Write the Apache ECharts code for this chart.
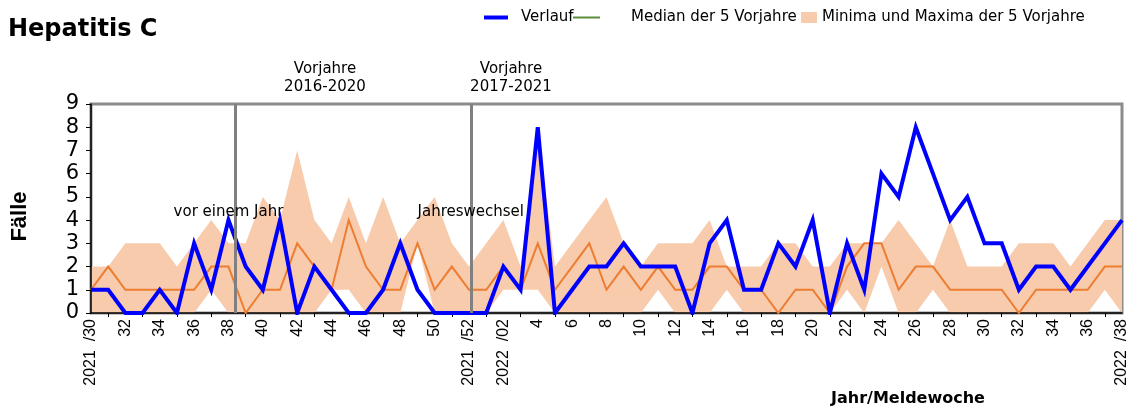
<!DOCTYPE html>
<html>
<head>
<meta charset="utf-8">
<script src="https://cdn.jsdelivr.net/npm/echarts@6/dist/echarts.min.js"></script>
<style>
  html, body { margin: 0; padding: 0; background: #fff; }
  #chart { width: 1133px; height: 409px; }
</style>
</head>
<body>
<div id="chart"></div>
<script>
// Meldewochen 2021/30 bis 2022/38
const weeks = [
  '2021  /30', '31', '32', '33', '34', '35', '36', '37', '38', '39', '40', '41', '42', '43', '44', '45',
  '46', '47', '48', '49', '50', '51', '2021  /52',
  '1', '2022  /02', '3', '4', '5', '6', '7', '8', '9', '10', '11', '12', '13', '14', '15', '16', '17',
  '18', '19', '20', '21', '22', '23', '24', '25', '26', '27', '28', '29', '30', '31', '32', '33',
  '34', '35', '36', '37', '2022  /38'
]
const verlauf = [
  1, 1, 0, 0, 1, 0, 3, 1, 4, 2, 1, 4, 0, 2, 1, 0, 0, 1, 3, 1,
  0, 0, 0, 0, 2, 1, 8, 0, 1, 2, 2, 3, 2, 2, 2, 0, 3, 4, 1, 1,
  3, 2, 4, 0, 3, 1, 6, 5, 8, 6, 4, 5, 3, 3, 1, 2, 2, 1, 2, 3, 4
]
const median = [
  1, 2, 1, 1, 1, 1, 1, 2, 2, 0, 1, 1, 3, 2, 1, 4, 2, 1, 1, 3,
  1, 2, 1, 1, 2, 1, 3, 1, 2, 3, 1, 2, 1, 2, 1, 1, 2, 2, 1, 1,
  0, 1, 1, 0, 2, 3, 3, 1, 2, 2, 1, 1, 1, 1, 0, 1, 1, 1, 1, 2, 2
]
const minima = [
  0, 0, 0, 0, 0, 0, 0, 1, 0, 0, 0, 0, 0, 0, 1, 1, 0, 0, 0, 3,
  0, 0, 0, 0, 1, 1, 1, 0, 0, 0, 0, 0, 0, 1, 0, 0, 0, 1, 0, 0,
  0, 0, 0, 0, 1, 0, 2, 0, 0, 1, 0, 0, 0, 0, 0, 0, 0, 0, 0, 1, 0
]
const maxima = [
  2, 2, 3, 3, 3, 2, 3, 4, 3, 3, 5, 4, 7, 4, 3, 5, 3, 5, 3, 4,
  5, 3, 2, 3, 4, 2, 8, 2, 3, 4, 5, 3, 2, 3, 3, 3, 4, 2, 2, 2,
  3, 3, 2, 2, 3, 3, 3, 4, 3, 2, 4, 2, 2, 2, 3, 3, 3, 2, 3, 4, 4
]
// Lage der senkrechten Markierungen (in Wochen ab 2021/30)
const vorEinemJahr = 8.4
const jahreswechsel = 22.15

const blue = '#0000ff'
const orange = '#ed7d31'
const peach = '#f8cbad'
const font = 'DejaVu Sans'
const xFont = 'Liberation Sans'

const chart = echarts.init(document.getElementById('chart'))

const option = {
  animation: false,
  backgroundColor: '#fff',
  title: [
    {
      text: 'Hepatitis C',
      left: 3,
      top: 13,
      textStyle: { fontFamily: font, fontSize: 24, fontWeight: 'bold', color: '#000' }
    },
    {
      text: 'Vorjahre\n2016-2020',
      left: 320,
      top: 55,
      textAlign: 'center',
      textStyle: { fontFamily: font, fontSize: 15, fontWeight: 'normal', lineHeight: 18, color: '#000' }
    },
    {
      text: 'Vorjahre\n2017-2021',
      left: 506,
      top: 55,
      textAlign: 'center',
      textStyle: { fontFamily: font, fontSize: 15, fontWeight: 'normal', lineHeight: 18, color: '#000' }
    },
    {
      text: 'Jahr/Meldewoche',
      left: 826,
      top: 386,
      textStyle: { fontFamily: font, fontSize: 16, fontWeight: 'bold', color: '#000' }
    }
  ],
  legend: [
    {
      left: 479,
      top: 5,
      selectedMode: false,
      itemWidth: 24,
      itemHeight: 4,
      data: [{ name: 'Verlauf', icon: 'rect', itemStyle: { color: blue } }],
      textStyle: { fontFamily: font, fontSize: 15, color: '#000', padding: [0, 0, 0, 8] }
    },
    {
      left: 568,
      top: 5,
      selectedMode: false,
      itemWidth: 27,
      itemHeight: 2,
      data: [{ name: 'Median der 5 Vorjahre', icon: 'rect', itemStyle: { color: '#5b8c3a' } }],
      textStyle: { fontFamily: font, fontSize: 15, color: '#000', padding: [0, 0, 0, 26] }
    },
    {
      left: 796,
      top: 5,
      selectedMode: false,
      itemWidth: 16,
      itemHeight: 11,
      data: [{ name: 'Minima und Maxima der 5 Vorjahre', icon: 'rect', itemStyle: { color: peach } }],
      textStyle: { fontFamily: font, fontSize: 15, color: '#000' }
    }
  ],
  grid: {
    left: 91,
    right: 11,
    top: 104,
    bottom: 96,
    show: true,
    borderColor: '#8c8c8c',
    borderWidth: 3
  },
  xAxis: [
    {
      type: 'category',
      data: weeks,
      boundaryGap: false,
      z: 3,
      axisLine: { lineStyle: { color: '#000', width: 1.5 } },
      axisTick: {
        interval: function (i) { return i % 2 === 1 },
        length: 4,
        lineStyle: { color: '#000' }
      },
      axisLabel: {
        interval: function (i) { return i % 2 === 0 },
        rotate: 90,
        margin: 6,
        fontFamily: xFont,
        fontSize: 16,
        color: '#000'
      },
      splitLine: { show: false }
    },
    {
      type: 'value',
      min: 0,
      max: weeks.length - 1,
      show: false
    }
  ],
  yAxis: {
    type: 'value',
    min: 0,
    max: 9,
    interval: 1,
    z: 3,
    name: 'Fälle',
    nameLocation: 'middle',
    nameRotate: 90,
    nameGap: 60,
    nameTextStyle: { fontFamily: xFont, fontSize: 22, fontWeight: 'bold', color: '#000', padding: [0, 16, 0, 0] },
    axisLine: { show: true, lineStyle: { color: '#000', width: 1.5 } },
    axisTick: { show: true, length: 5, lineStyle: { color: '#000' } },
    axisLabel: { margin: 12, fontFamily: font, fontSize: 21, color: '#000' },
    splitLine: { show: false }
  },
  series: [
    {
      name: 'min',
      type: 'line',
      stack: 'band',
      data: minima,
      symbol: 'none',
      silent: true,
      lineStyle: { width: 0, opacity: 0 }
    },
    {
      name: 'Minima und Maxima der 5 Vorjahre',
      type: 'line',
      stack: 'band',
      data: maxima.map(function (v, i) { return v - minima[i] }),
      symbol: 'none',
      silent: true,
      itemStyle: { color: peach },
      lineStyle: { width: 0, opacity: 0 },
      areaStyle: { color: peach, opacity: 1 }
    },
    {
      name: 'marks',
      type: 'line',
      xAxisIndex: 1,
      data: [],
      silent: true,
      markLine: {
        symbol: 'none',
        silent: true,
        label: { show: false },
        lineStyle: { color: '#808080', width: 3, type: 'solid' },
        data: [{ xAxis: vorEinemJahr }, { xAxis: jahreswechsel }]
      },
      markPoint: {
        symbol: 'rect',
        symbolSize: 1,
        silent: true,
        itemStyle: { color: 'rgba(0,0,0,0)' },
        label: { show: true, position: 'inside', fontFamily: font, fontSize: 15, color: '#000' },
        data: [
          { coord: [8, 4.35], label: { formatter: 'vor einem Jahr' } },
          { coord: [22.1, 4.35], label: { formatter: 'Jahreswechsel' } }
        ]
      }
    },
    {
      name: 'Median der 5 Vorjahre',
      type: 'line',
      data: median,
      symbol: 'none',
      itemStyle: { color: orange },
      lineStyle: { color: orange, width: 2, join: 'miter' }
    },
    {
      name: 'Verlauf',
      type: 'line',
      data: verlauf,
      symbol: 'none',
      z: 4,
      itemStyle: { color: blue },
      lineStyle: { color: blue, width: 4, join: 'miter' }
    }
  ]
}

chart.setOption(option)
window.addEventListener('resize', function () { chart.resize() })
</script>
</body>
</html>
